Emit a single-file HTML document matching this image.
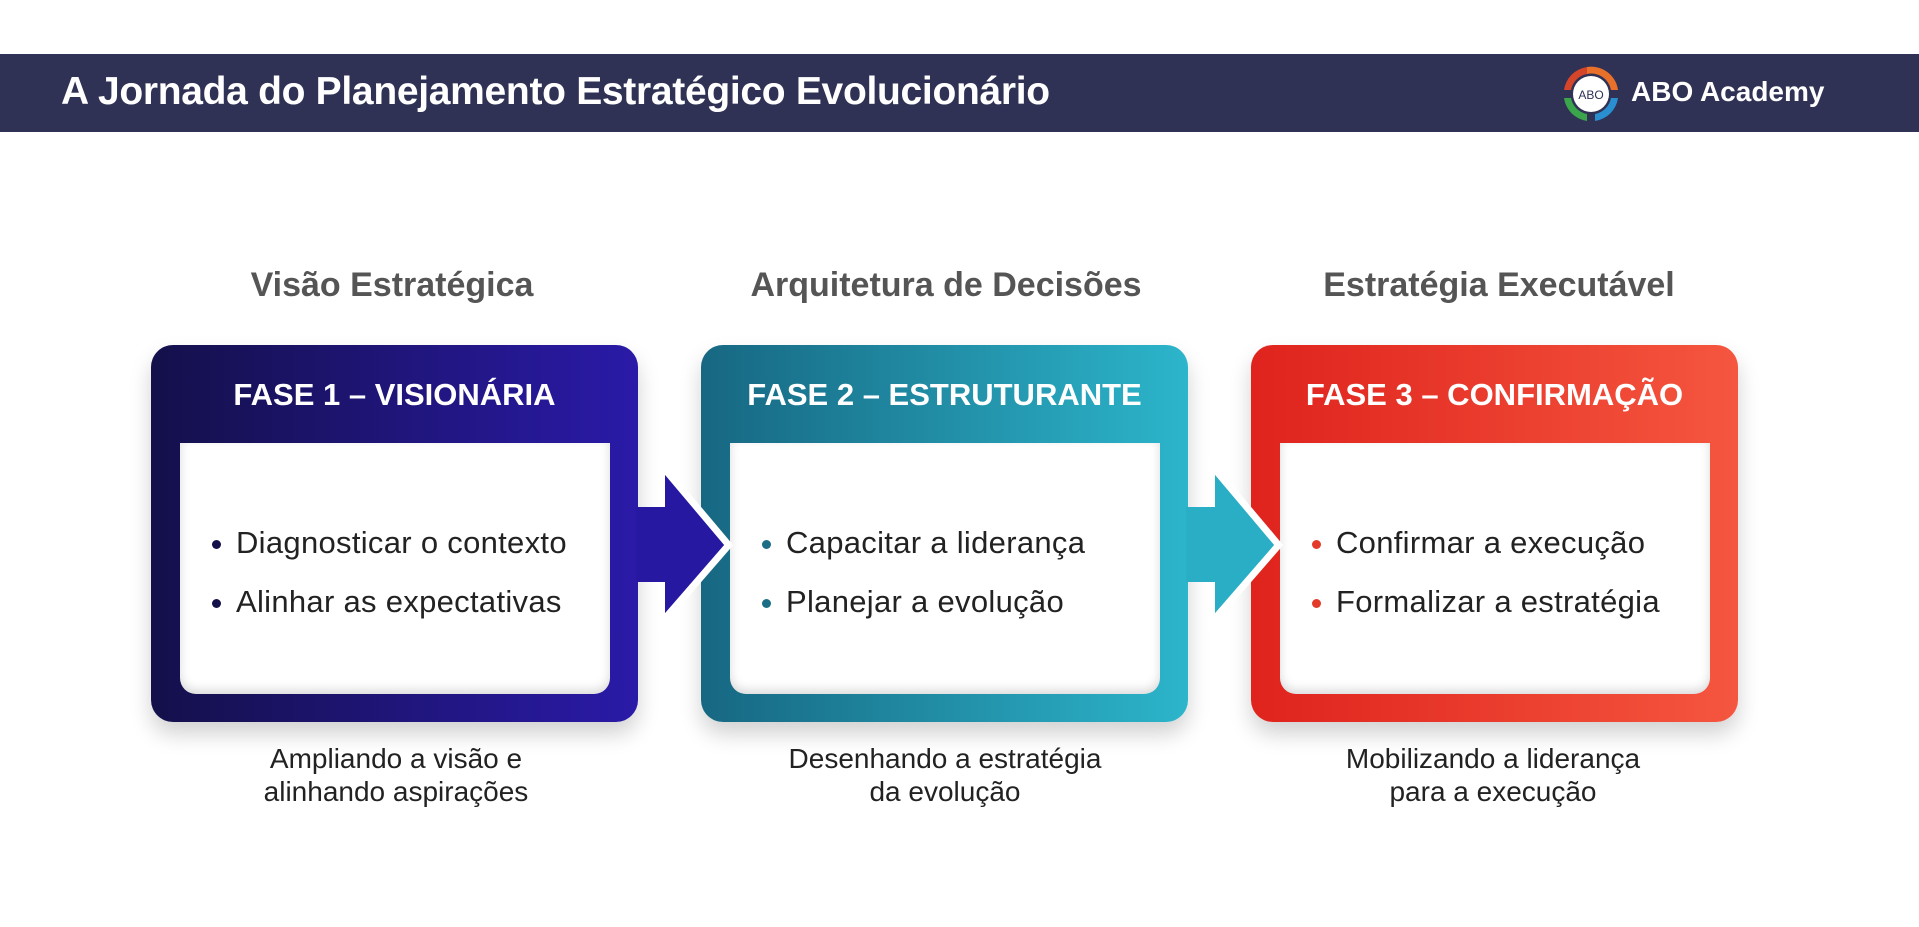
<!DOCTYPE html>
<html><head><meta charset="utf-8"><style>
*{margin:0;padding:0;box-sizing:border-box}
body{width:1919px;height:927px;background:#fff;position:relative;overflow:hidden;font-family:"Liberation Sans",sans-serif}
.bar{position:absolute;left:0;top:54px;width:1919px;height:78px;background:#2f3254}
.title{position:absolute;left:61px;top:70px;font-size:39px;font-weight:bold;color:#fff;letter-spacing:-0.3px}
.logo{position:absolute;left:1631px;top:76px;font-size:28px;font-weight:bold;color:#fff}
.sec{position:absolute;top:266px;width:500px;text-align:center;font-size:34px;font-weight:bold;color:#555}
.card{position:absolute;top:345px;width:487px;height:377px;border-radius:22px;box-shadow:0 12px 22px rgba(0,0,0,0.18)}
.card h2{position:absolute;top:0;left:0;right:0;height:98px;line-height:100px;text-align:center;color:#fff;font-size:31px;font-weight:bold;white-space:nowrap}
.inner{position:absolute;left:29px;top:98px;width:430px;height:251px;background:#fff;border-radius:0 0 16px 16px;box-shadow:0 -4px 10px rgba(0,0,0,0.15) inset}
.li{position:absolute;left:56px;font-size:31px;color:#222;white-space:nowrap;letter-spacing:0.3px}
.li i{position:absolute;left:-24px;top:15px;width:9px;height:9px;border-radius:50%}
.cap{position:absolute;top:742px;width:500px;text-align:center;font-size:28px;color:#222;line-height:33px}
svg{position:absolute;left:0;top:0}
</style></head><body>
<div class="bar"></div>
<div class="title">A Jornada do Planejamento Estratégico Evolucionário</div>
<svg width="1919" height="927" style="z-index:1">
<g transform="translate(1591,94)">
<path d="M-4,-27 A27,27 0 0 1 27,-4 L20,-4 A20,20 0 0 0 -4,-20 Z" fill="#e8702a"/>
<path d="M27,4 A27,27 0 0 1 4,27 L4,20 A20,20 0 0 0 20,4 Z" fill="#2a8fd0"/>
<path d="M-4,27 A27,27 0 0 1 -27,4 L-20,4 A20,20 0 0 0 -4,20 Z" fill="#3aa54a"/>
<path d="M-27,-4 A27,27 0 0 1 -4,-27 L-4,-20 A20,20 0 0 0 -20,-4 Z" fill="#d4452a"/>
<circle r="18" fill="#fff"/>
<text x="0" y="5" font-size="12" text-anchor="middle" fill="#2f3254" font-family="Liberation Sans">ABO</text>
</g>
</svg>
<div class="logo">ABO Academy</div>

<div class="sec" style="left:142px">Visão Estratégica</div>
<div class="sec" style="left:696px">Arquitetura de Decisões</div>
<div class="sec" style="left:1249px">Estratégia Executável</div>

<div class="card" style="left:151px;background:linear-gradient(90deg,#14104a,#2a1aa8)">
<h2>FASE 1 – VISIONÁRIA</h2>
<div class="inner">
<div class="li" style="top:82px"><i style="background:#14104a"></i>Diagnosticar o contexto</div>
<div class="li" style="top:141px"><i style="background:#14104a"></i>Alinhar as expectativas</div>
</div></div>
<div class="card" style="left:701px;background:linear-gradient(90deg,#176782,#2cb5cb)">
<h2>FASE 2 – ESTRUTURANTE</h2>
<div class="inner">
<div class="li" style="top:82px"><i style="background:#1b6e85"></i>Capacitar a liderança</div>
<div class="li" style="top:141px"><i style="background:#1b6e85"></i>Planejar a evolução</div>
</div></div>
<div class="card" style="left:1251px;background:linear-gradient(90deg,#df231d,#f5563f)">
<h2>FASE 3 – CONFIRMAÇÃO</h2>
<div class="inner">
<div class="li" style="top:82px"><i style="background:#e33a2a"></i>Confirmar a execução</div>
<div class="li" style="top:141px"><i style="background:#e33a2a"></i>Formalizar a estratégia</div>
</div></div>

<svg width="1919" height="927" style="z-index:2">
<polygon points="665,475 724,545 665,613" fill="#2618a0" stroke="#fff" stroke-width="14" stroke-linejoin="miter" paint-order="stroke"/>
<rect x="636" y="507" width="36" height="75" fill="#2618a0"/>
<polygon points="665,475 724,545 665,613" fill="#2618a0"/>
<polygon points="1215,475 1274,545 1215,613" fill="#2aaec5" stroke="#fff" stroke-width="14" stroke-linejoin="miter" paint-order="stroke"/>
<rect x="1186" y="507" width="36" height="75" fill="#2aaec5"/>
<polygon points="1215,475 1274,545 1215,613" fill="#2aaec5"/>
</svg>

<div class="cap" style="left:146px">Ampliando a visão e<br>alinhando aspirações</div>
<div class="cap" style="left:695px">Desenhando a estratégia<br>da evolução</div>
<div class="cap" style="left:1243px">Mobilizando a liderança<br>para a execução</div>
</body></html>
